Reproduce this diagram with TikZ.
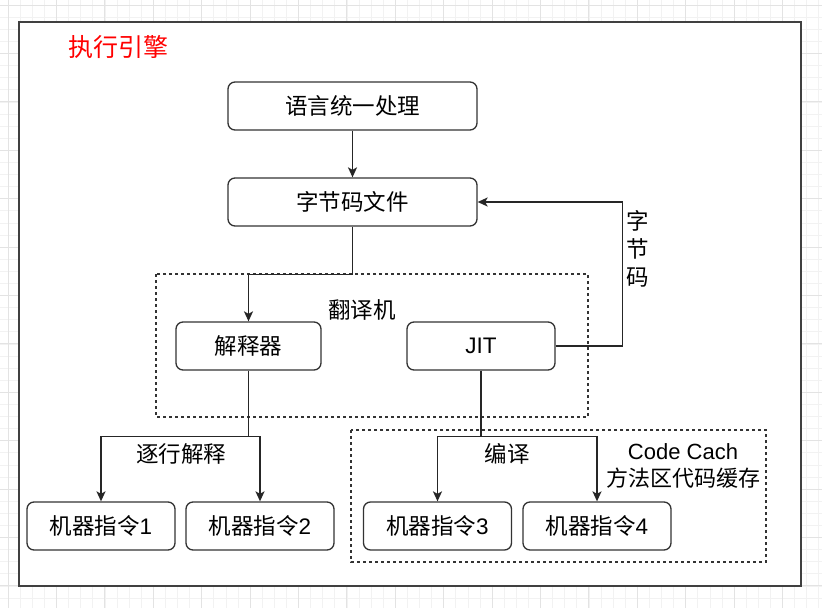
\documentclass[tikz,border=0pt]{standalone}
\usepackage{fontspec}
\setmainfont{Liberation Sans}
\newfontfamily\cjk{Noto Sans CJK SC}
\usepackage{tikz}
\usetikzlibrary{positioning,arrows.meta}

\tikzset{
  box/.style={draw=black!80,line width=1.3pt,rounded corners=7pt,fill=white,
    minimum width=148pt,minimum height=48pt,inner sep=0pt,font=\fontsize{22.5}{27}\selectfont},
  widebox/.style={box,minimum width=249pt},
  conn/.style={draw=black!85,line width=1.5pt,-{Stealth[length=10pt,width=9pt,inset=2.5pt]}},
  plain/.style={draw=black!85,line width=1.5pt},
  dashbox/.style={draw=black!80,line width=1.1pt,dash pattern=on 3pt off 3pt},
  lbl/.style={font=\fontsize{22.5}{27}\selectfont,inner sep=0pt},
  minorline/.style={draw=black!5,line width=0.6pt},
  majorline/.style={draw=black!11,line width=0.8pt}
}

\begin{document}
\begin{tikzpicture}[x=1pt,y=-1pt]
\useasboundingbox (0,0) rectangle (822,608);
% background grid
\foreach \i in {0,...,68} \draw[minorline] (\i*12.1+8,0) -- (\i*12.1+8,608);
\foreach \j in {0,...,50} \draw[minorline] (0,\j*12.1+5) -- (822,\j*12.1+5);
\foreach \i in {0,...,17} \draw[majorline] (\i*48.4+8,0) -- (\i*48.4+8,608);
\foreach \j in {0,...,12} \draw[majorline] (0,\j*48.4+5) -- (822,\j*48.4+5);
% outer frame
\draw[draw=black!75,line width=1.6pt,fill=white] (19,22) rectangle (801,586);
\node[lbl,text=red,font=\fontsize{25}{30}\selectfont] (title) at (118,47) {\cjk 执行引擎};

% dashed groups
\draw[dashbox] (156,274) rectangle (588,417);
\draw[dashbox] (351,430) rectangle (766,562);
\node[lbl] (trans) at (362,310) {\cjk 翻译机};
\node[lbl,align=center,font=\fontsize{22}{27}\selectfont] (cache) at (683,466) {Code Cach\\{\cjk 方法区代码缓存}};

% boxes
\node[widebox] (lang) at (352.5,106) {\cjk 语言统一处理};
\node[widebox] (file) at (352.5,202) {\cjk 字节码文件};
\node[box,minimum width=145pt] (interp) at (248.5,346) {\cjk 解释器};
\node[box] (jit) at (481,346) {JIT};
\node[box] (m1) at (101,526) {{\cjk 机器指令}1};
\node[box] (m2) at (260,526) {{\cjk 机器指令}2};
\node[box] (m3) at (437.5,526) {{\cjk 机器指令}3};
\node[box] (m4) at (597,526) {{\cjk 机器指令}4};

% connectors
\draw[conn] (lang) -- (file);
\draw[conn] (file.south) -- ++(0,48) -| (interp.north);
\draw[conn] (jit.east) -- ++(67,0) |- (file.east);
\node[lbl,align=center] (bc) at (638,249) {\cjk 字\\[1pt]\cjk 节\\[1pt]\cjk 码};
\draw[plain] (interp.south) -- ++(0,66) coordinate (split1);
\draw[conn] (split1) -| (m1.north);
\draw[conn] (split1) -| (m2.north);
\node[lbl] (line) at (181,454) {\cjk 逐行解释};
\draw[plain] (jit.south) -- ++(0,66) coordinate (split2);
\draw[conn] (split2) -| (m3.north);
\draw[conn] (split2) -| (m4.north);
\node[lbl] (comp) at (507,454) {\cjk 编译};
\end{tikzpicture}
\end{document}
